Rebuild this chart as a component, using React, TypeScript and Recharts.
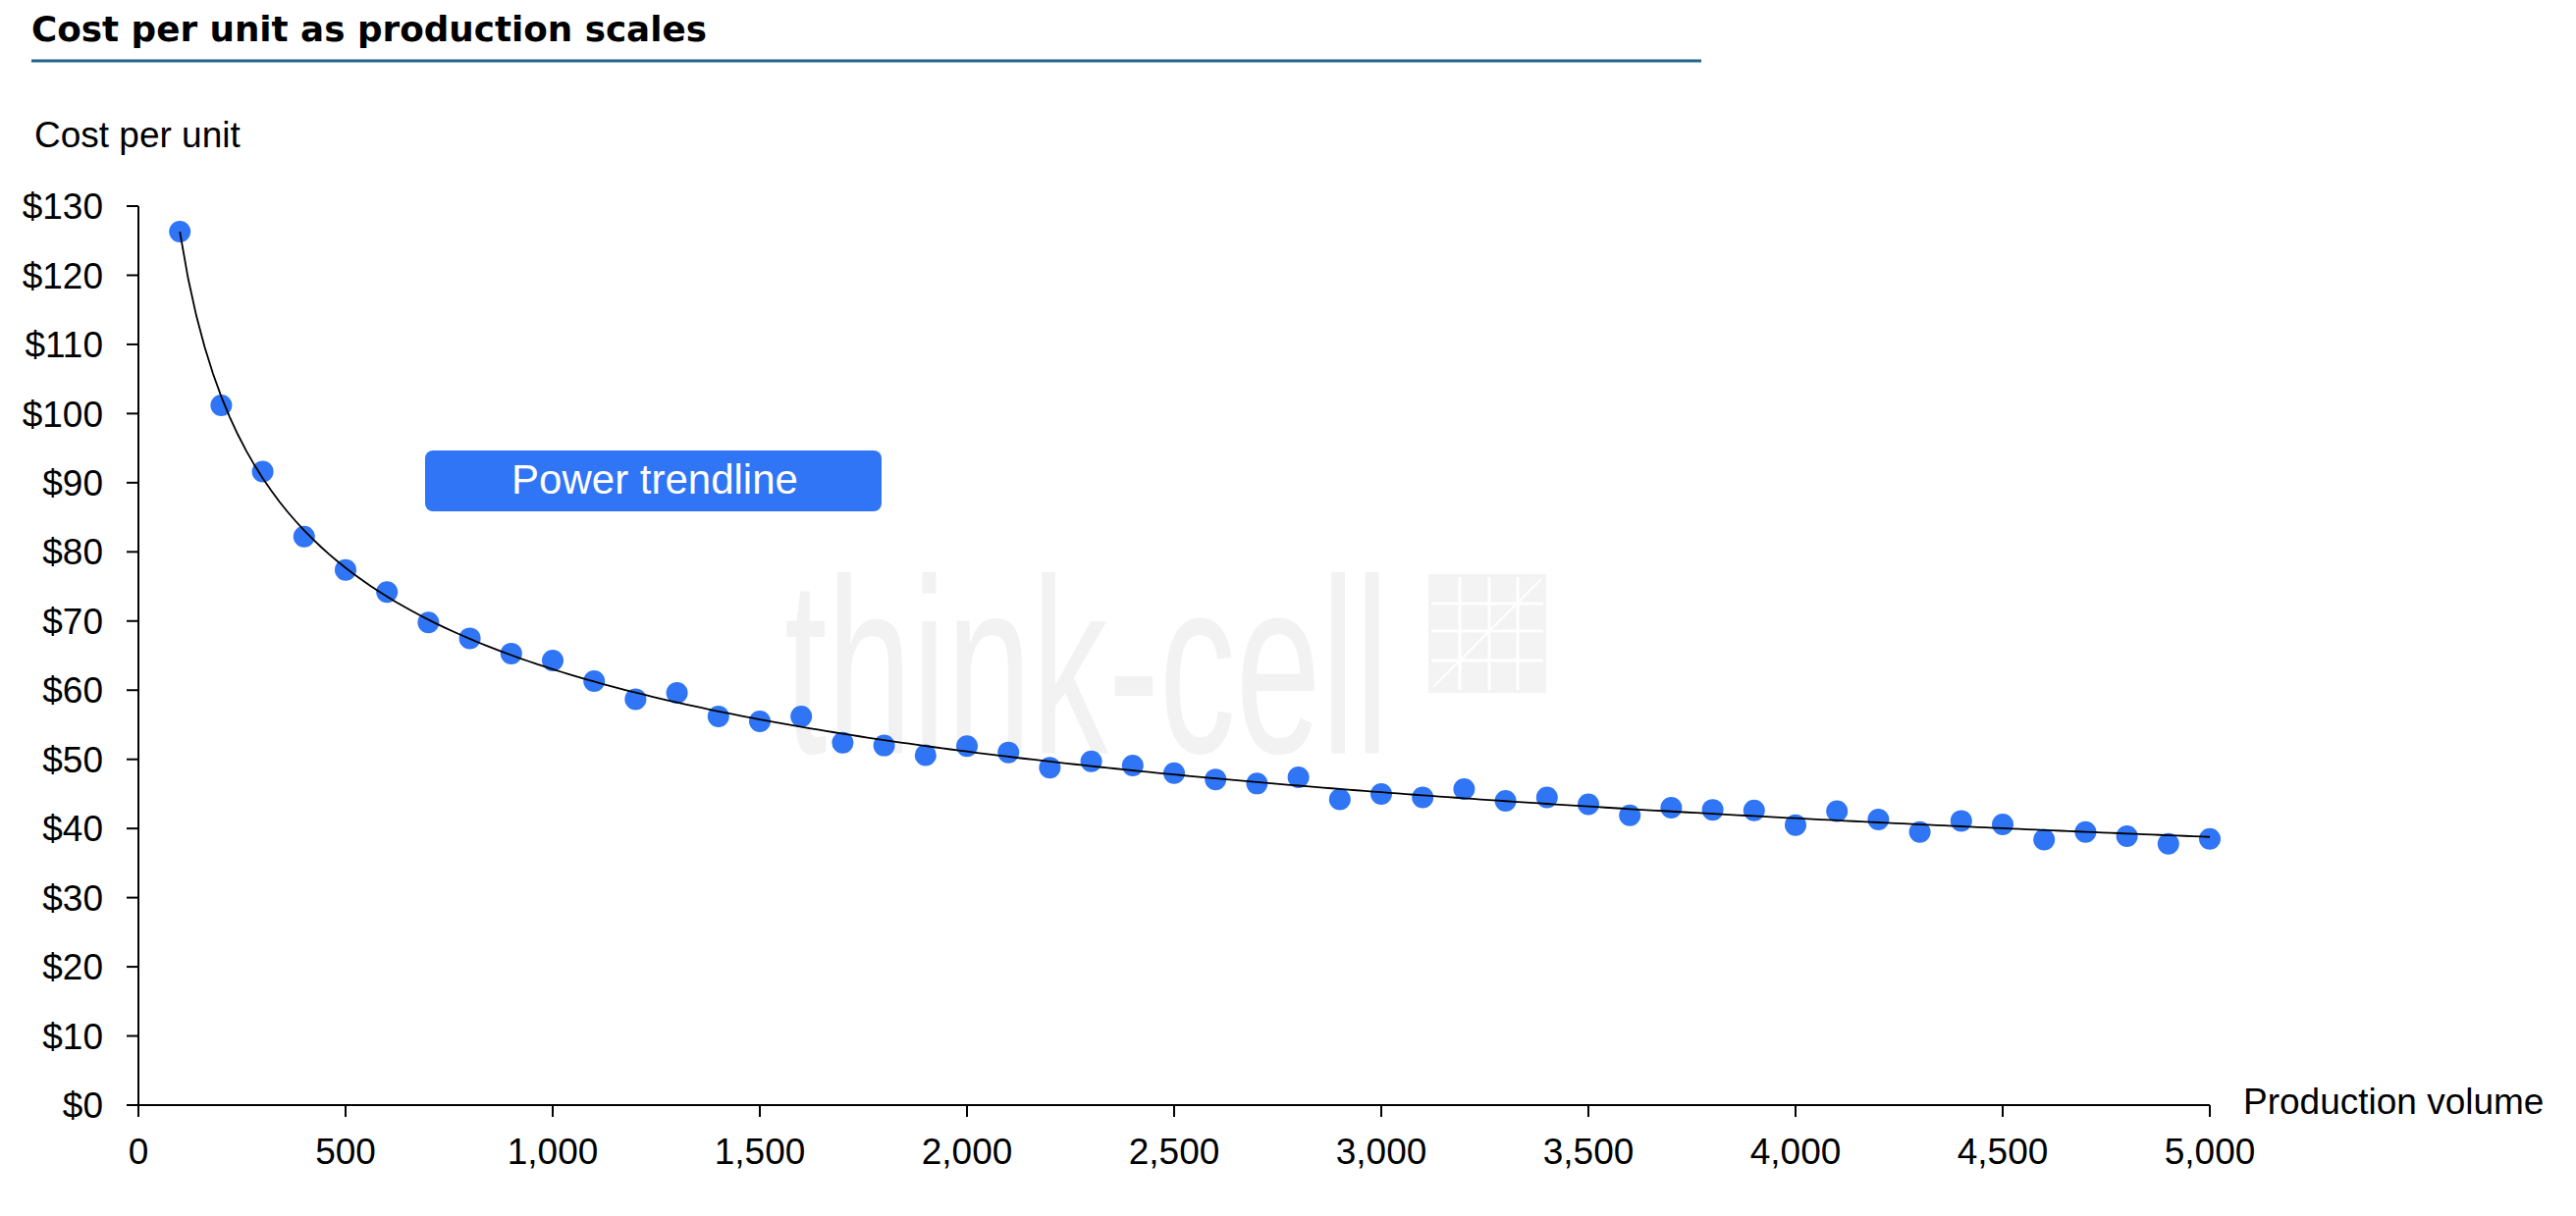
import React from "react";
import { ScatterChart, Scatter, XAxis, YAxis } from "recharts";

const volumes = [
  100, 200, 300, 400, 500, 600, 700, 800, 900, 1000,
  1100, 1200, 1300, 1400, 1500, 1600, 1700, 1800, 1900, 2000,
  2100, 2200, 2300, 2400, 2500, 2600, 2700, 2800, 2900, 3000,
  3100, 3200, 3300, 3400, 3500, 3600, 3700, 3800, 3900, 4000,
  4100, 4200, 4300, 4400, 4500, 4600, 4700, 4800, 4900, 5000,
];
const costs = [
  126.3, 101.2, 91.6, 82.2, 77.4, 74.2, 69.8, 67.5, 65.3, 64.3,
  61.3, 58.7, 59.6, 56.2, 55.5, 56.2, 52.4, 52.0, 50.6, 51.9,
  51.0, 48.8, 49.7, 49.1, 48.0, 47.1, 46.5, 47.4, 44.2, 45.0,
  44.5, 45.7, 44.0, 44.5, 43.5, 41.9, 43.0, 42.7, 42.6, 40.5,
  42.5, 41.3, 39.5, 41.1, 40.6, 38.4, 39.5, 38.9, 37.8, 38.5,
];
const xTicks = [0, 500, 1000, 1500, 2000, 2500, 3000, 3500, 4000, 4500, 5000];
const yTicks = [0, 10, 20, 30, 40, 50, 60, 70, 80, 90, 100, 110, 120, 130];

const points = volumes.map((x, i) => ({ x, y: costs[i] }));

// Power trendline (least squares in log-log space) fitted to the points above
const lx = volumes.map(Math.log);
const ly = costs.map(Math.log);
const mx = lx.reduce((a, b) => a + b, 0) / lx.length;
const my = ly.reduce((a, b) => a + b, 0) / ly.length;
let sxy = 0;
let sxx = 0;
for (let i = 0; i < lx.length; i++) {
  sxy += (lx[i] - mx) * (ly[i] - my);
  sxx += (lx[i] - mx) * (lx[i] - mx);
}
const powB = sxy / sxx;
const powA = Math.exp(my - powB * mx);
const trend: { x: number; y: number }[] = [];
for (let x = volumes[0]; x <= volumes[volumes.length - 1]; x += 20) {
  trend.push({ x, y: powA * Math.pow(x, powB) });
}

const FONT = "'Liberation Sans', Arial, sans-serif";
const TITLE_FONT = "'DejaVu Sans', 'Liberation Sans', sans-serif";
const BLUE = "#2F75F5";

const Dot = (props: any) => (
  <circle cx={props.cx} cy={props.cy} r={11} fill={BLUE} />
);
const NoDot = () => <g />;

export default function App() {
  return (
    <div
      style={{
        position: "absolute",
        left: 0,
        top: 0,
        width: 2624,
        height: 1239,
        background: "#fff",
        fontFamily: FONT,
      }}
    >
      {/* watermark */}
      <svg
        width={2624}
        height={1239}
        style={{ position: "absolute", left: 0, top: 0 }}
      >
        <text
          x={799}
          y={767}
          fontSize={254}
          fontFamily={FONT}
          fill="#f2f2f2"
          textLength={616}
          lengthAdjust="spacingAndGlyphs"
        >
          think-cell
        </text>
        <rect x={1455} y={585} width={120} height={121} fill="#f3f3f3" />
        {[1487, 1517, 1546].map((x) => (
          <line key={"v" + x} x1={x} y1={588} x2={x} y2={703} stroke="#fff" strokeWidth={3} />
        ))}
        {[615, 643, 673].map((y) => (
          <line key={"h" + y} x1={1458} y1={y} x2={1572} y2={y} stroke="#fff" strokeWidth={3} />
        ))}
        <line x1={1460} y1={700} x2={1570} y2={590} stroke="#fff" strokeWidth={2} />
      </svg>

      <div style={{ position: "absolute", left: 0, top: 0 }}>
        <ScatterChart
          width={2624}
          height={1239}
          margin={{ top: 210, right: 373, bottom: 53, left: 41 }}
        >
          <XAxis
            type="number"
            dataKey="x"
            domain={[0, 5000]}
            ticks={xTicks}
            interval={0}
            height={60}
            tickSize={12}
            tickMargin={22}
            tickFormatter={(v: number) => v.toLocaleString("en-US")}
            tick={{ fontSize: 37, fill: "#000", fontFamily: FONT }}
            axisLine={{ stroke: "#000", strokeWidth: 2 }}
            tickLine={{ stroke: "#000", strokeWidth: 2 }}
          />
          <YAxis
            type="number"
            dataKey="y"
            domain={[0, 130]}
            ticks={yTicks}
            interval={0}
            width={100}
            tickSize={12}
            tickMargin={24}
            tickFormatter={(v: number) => `$${v}`}
            tick={{ fontSize: 37, fill: "#000", fontFamily: FONT }}
            axisLine={{ stroke: "#000", strokeWidth: 2 }}
            tickLine={{ stroke: "#000", strokeWidth: 2 }}
          />
          <Scatter
            name="Cost per unit"
            data={points}
            shape={Dot}
            isAnimationActive={false}
          />
          <Scatter
            name="Power trendline"
            data={trend}
            shape={NoDot}
            line={{ stroke: "#000", strokeWidth: 1.8 }}
            lineType="joint"
            isAnimationActive={false}
          />
        </ScatterChart>
      </div>

      {/* texts overlay */}
      <svg
        width={2624}
        height={1239}
        style={{ position: "absolute", left: 0, top: 0, pointerEvents: "none" }}
      >
        <text
          x={32}
          y={42}
          fontSize={35}
          fontWeight="bold"
          fontFamily={TITLE_FONT}
          fill="#000"
          textLength={688}
          lengthAdjust="spacingAndGlyphs"
        >
          Cost per unit as production scales
        </text>
        <rect x={32} y={60.5} width={1701} height={3} fill="#1d6589" />
        <text x={35} y={150} fontSize={37} fontFamily={FONT} fill="#000">
          Cost per unit
        </text>
        <text x={2285} y={1135} fontSize={37} fontFamily={FONT} fill="#000">
          Production volume
        </text>
        <rect x={433} y={459} width={465} height={62} rx={8} ry={8} fill={BLUE} />
        <text
          x={667}
          y={503}
          fontSize={42}
          fontFamily={FONT}
          fill="#fff"
          textAnchor="middle"
        >
          Power trendline
        </text>
      </svg>
    </div>
  );
}
